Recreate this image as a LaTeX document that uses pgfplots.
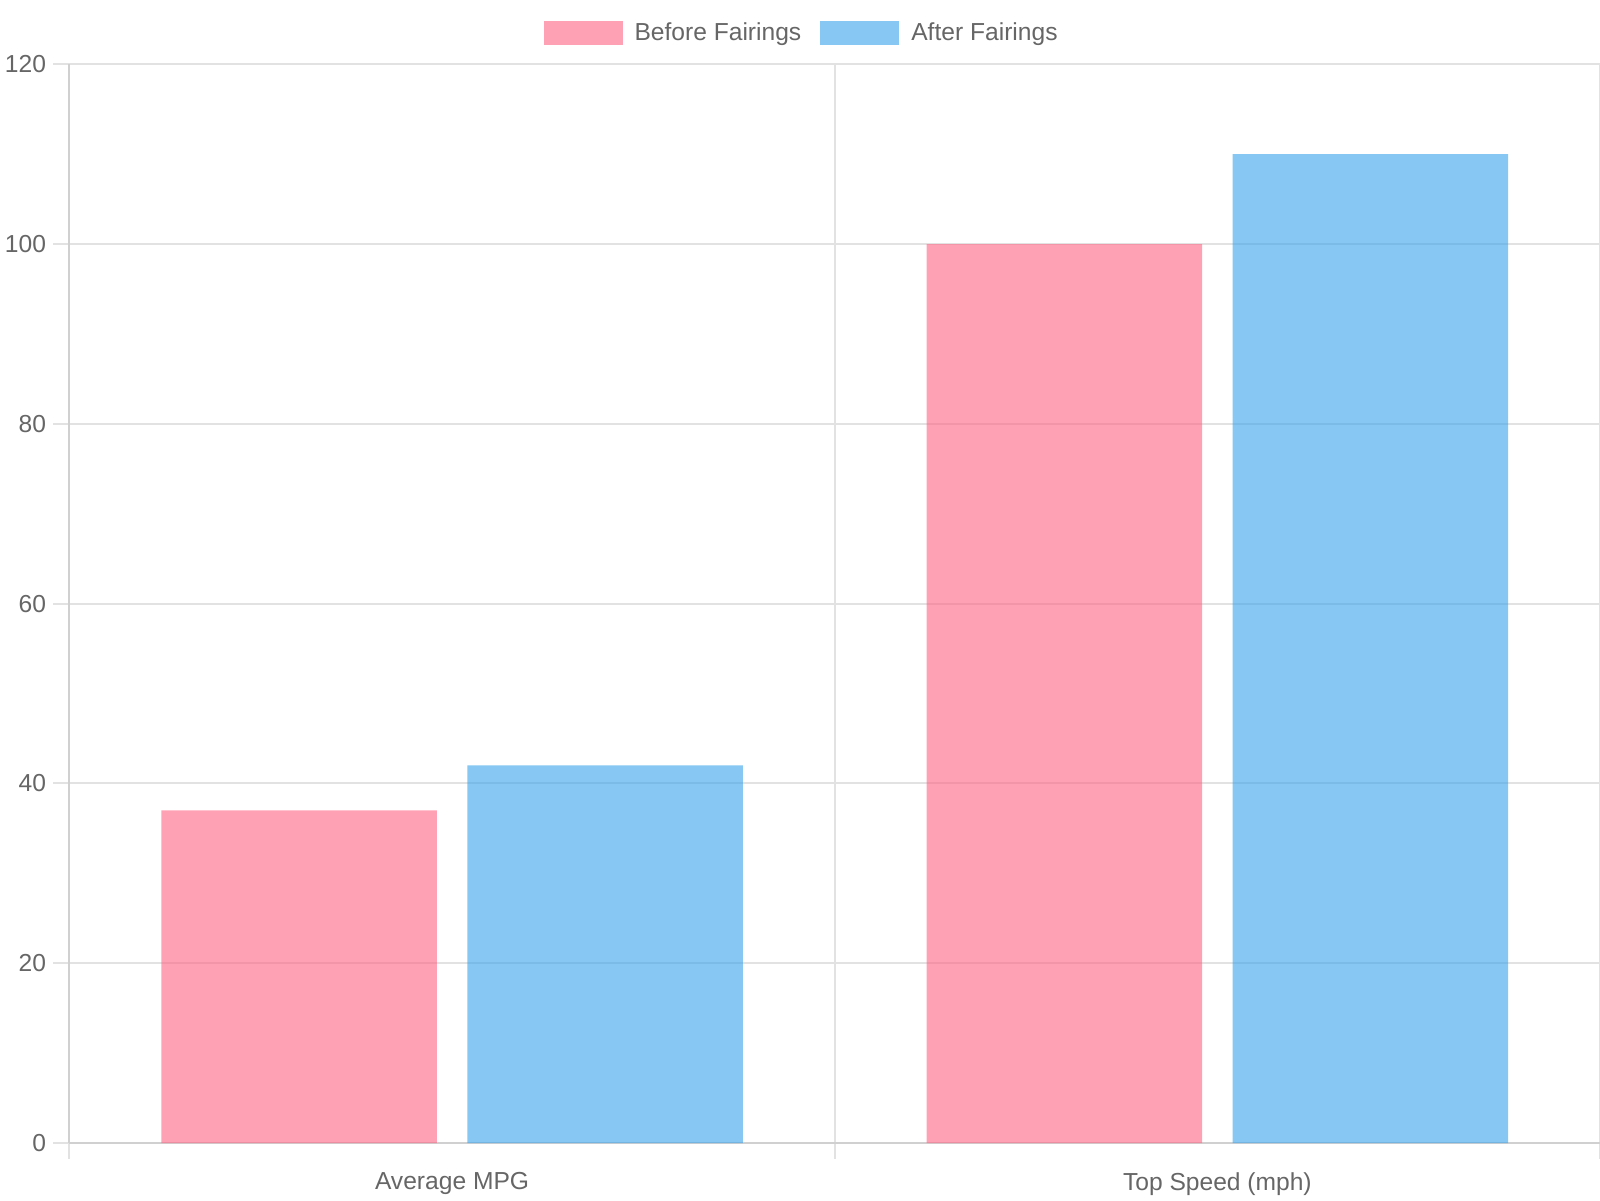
\documentclass[border=0pt]{standalone}
\usepackage{fontspec}
\setmainfont{Liberation Sans}
\usepackage{pgfplots}
\pgfplotsset{compat=1.18}
\definecolor{lblgray}{HTML}{666666}
\definecolor{gridgray}{HTML}{E2E2E2}
\definecolor{axgray}{HTML}{D0D0D0}
\definecolor{pinkc}{RGB}{255,99,132}
\definecolor{bluec}{RGB}{54,162,235}
\begin{document}
\begin{tikzpicture}
\useasboundingbox (0,0) rectangle (800pt,-600pt);
\begin{axis}[
  at={(34.7pt,-571.5pt)}, anchor=south west,
  scale only axis, width=765.3pt, height=539.35pt,
  xmin=-0.5, xmax=1.5, ymin=0, ymax=120,
  ytick={0,20,...,120},
  xtick={-0.5,0.5,1.5},
  xticklabels={},
  extra x ticks={0,1},
  extra x tick labels={Average MPG, Top Speed (mph)},
  extra x tick style={grid=none, major tick length=0pt},
  axis x line*=bottom, axis y line*=left,
  axis line style={axgray, line width=1pt},
  tick align=outside,
  ytick pos=left, xtick pos=bottom,
  ymajorgrids, xmajorgrids,
  major grid style={gridgray, line width=1pt},
  major tick style={gridgray, line width=1pt},
  major tick length=8pt,
  /pgf/number format/assume math mode=true,
  tick label style={font=\fontsize{12.3}{14}\selectfont, text=lblgray},
  yticklabel style={inner sep=0pt, xshift=-3.5pt},
  xticklabel style={inner sep=0pt, yshift=-14.5pt},
  ybar=15.3pt, bar width=137.7pt,
  legend columns=2,
  legend style={at={(0.479,1)}, anchor=center, yshift=15.8pt, draw=none, fill=none,
    font=\fontsize{12.3}{14}\selectfont, text=lblgray,
    /tikz/every odd column/.append style={column sep=4pt},
    /tikz/every even column/.append style={column sep=7.5pt}},
  legend image code/.code={\fill[#1] (0pt,-5.9pt) rectangle (39.5pt,5.9pt);},
]
\addplot[fill=pinkc, fill opacity=0.6, draw=none] coordinates {(0,37) (1,100)};
\addplot[fill=bluec, fill opacity=0.6, draw=none] coordinates {(0,42) (1,110)};
\legend{Before Fairings, After Fairings}
\end{axis}
\end{tikzpicture}
\end{document}
